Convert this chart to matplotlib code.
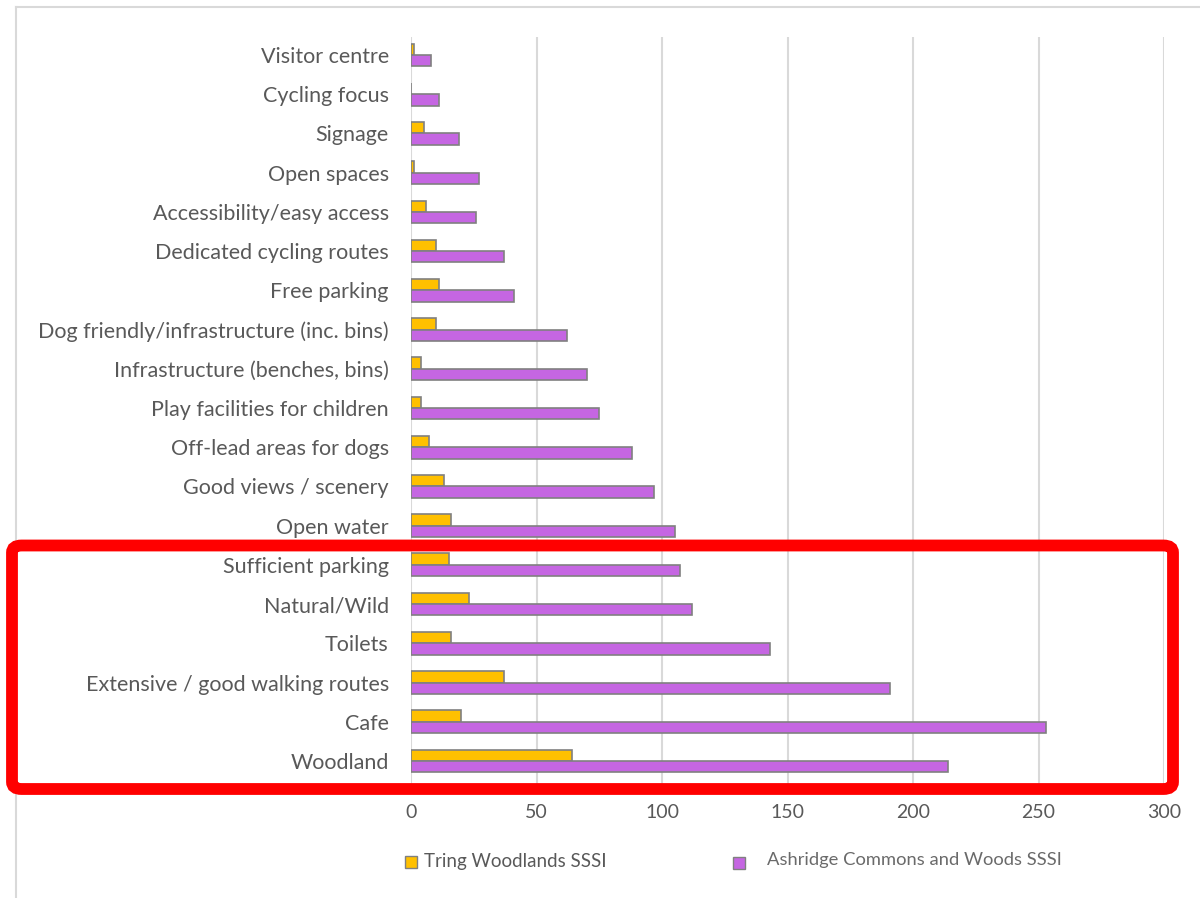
import matplotlib.pyplot as plt
from matplotlib.patches import FancyBboxPatch, Rectangle
from matplotlib.lines import Line2D
import numpy as np

plt.rcParams['font.family'] = ['Lato', 'DejaVu Sans']

# categories listed bottom to top
categories = ['Woodland', 'Cafe', 'Extensive / good walking routes', 'Toilets',
              'Natural/Wild', 'Sufficient parking', 'Open water',
              'Good views / scenery', 'Off-lead areas for dogs',
              'Play facilities for children', 'Infrastructure (benches, bins)',
              'Dog friendly/infrastructure (inc. bins)', 'Free parking',
              'Dedicated cycling routes', 'Accessibility/easy access',
              'Open spaces', 'Signage', 'Cycling focus', 'Visitor centre']
tring = [64, 20, 37, 16, 23, 15, 16, 13, 7, 4, 4, 10, 11, 10, 6, 1, 5, 0, 1]
ashridge = [214, 253, 191, 143, 112, 107, 105, 97, 88, 75, 70, 62, 41, 37, 26, 27, 19, 11, 8]

labels = ['Tring Woodlands SSSI', 'Ashridge Commons and Woods SSSI']
c_orange = '#FFC000'
c_purple = '#C566E2'
grey_txt = '#595959'

fig = plt.figure(figsize=(12, 8.98), dpi=100)
ax = fig.add_axes([0.3425, 0.1203, 0.6275, 0.8385])

y = np.arange(len(categories))
h = 0.29
ax.barh(y + h / 2, tring, height=h, color=c_orange, edgecolor='#808080', linewidth=1.2, zorder=3)
ax.barh(y - h / 2, ashridge, height=h, color=c_purple, edgecolor='#808080', linewidth=1.2, zorder=3)

ax.set_xlim(0, 300)
ax.set_ylim(-0.74, 18.46)
ax.set_xticks(range(0, 301, 50))
ax.set_yticks(y)
ax.set_yticklabels(categories)
ax.tick_params(axis='both', length=0, colors=grey_txt)
ax.tick_params(axis='y', pad=16, labelsize=15.5)
ax.tick_params(axis='x', pad=10, labelsize=14)
ax.grid(axis='x', color='#d9d9d9', linewidth=1.5, zorder=0)
for s in ax.spines.values():
    s.set_visible(False)

# legend drawn by hand
fig.patches.append(Rectangle((405 / 1200, 1 - 868 / 898), 12 / 1200, 12 / 898,
                             transform=fig.transFigure, facecolor=c_orange,
                             edgecolor='#808080', linewidth=1))
fig.text(424 / 1200, 1 - 862 / 898, labels[0], fontsize=13.5, color=grey_txt, va='center')
fig.patches.append(Rectangle((733 / 1200, 1 - 869 / 898), 12 / 1200, 12 / 898,
                             transform=fig.transFigure, facecolor=c_purple,
                             edgecolor='#808080', linewidth=1))
fig.text(767 / 1200, 1 - 860 / 898, labels[1], fontsize=13.2, color='#6a6a6a', va='center')

# outer frame lines
fig.add_artist(Line2D([16 / 1200, 16 / 1200], [0, 1 - 7 / 898], transform=fig.transFigure,
                      color='#d9d9d9', linewidth=1.5))
fig.add_artist(Line2D([16 / 1200, 1], [1 - 7 / 898, 1 - 7 / 898], transform=fig.transFigure,
                      color='#d9d9d9', linewidth=1.5))

# red highlight box
fig.patches.append(FancyBboxPatch((12 / 1200, 1 - 789 / 898), (1173 - 12) / 1200, (789 - 545.5) / 898,
                                  boxstyle='round,pad=0,rounding_size=0.008',
                                  transform=fig.transFigure, facecolor='none',
                                  edgecolor='#FF0000', linewidth=8.5, zorder=10))

fig.savefig('out.png', dpi=100)
